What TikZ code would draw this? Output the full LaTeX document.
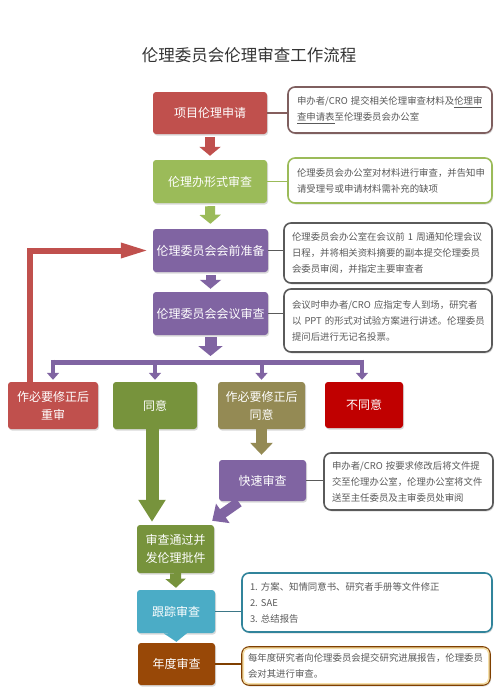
\documentclass[tikz,border=0pt]{standalone}
\usepackage{fontspec}
\setmainfont{Noto Sans CJK SC}
\usetikzlibrary{arrows.meta,shadows}
\definecolor{cred}{HTML}{C0504D}
\definecolor{cgreen}{HTML}{9BBB59}
\definecolor{cpurple}{HTML}{8064A2}
\definecolor{colive}{HTML}{77933C}
\definecolor{ckhaki}{HTML}{948A54}
\definecolor{cdred}{HTML}{C00000}
\definecolor{cblue}{HTML}{4BACC6}
\definecolor{cbrown}{HTML}{984807}
\definecolor{ntext}{HTML}{595959}
\definecolor{bred}{HTML}{7F5F5F}
\definecolor{bgray}{HTML}{5A5A5A}
\definecolor{bteal}{HTML}{31849B}
\definecolor{bbrown}{HTML}{7F3F00}
\definecolor{bgold}{HTML}{F5DFA8}
\begin{document}
\begin{tikzpicture}[x=1pt,y=-1pt,
  box/.style={rounded corners=3pt, text=white, font=\fontsize{12}{18}\selectfont,
    align=center, inner sep=0pt,
    drop shadow={shadow xshift=1pt,shadow yshift=-1.5pt,opacity=0.3}},
  note/.style={draw, rounded corners=7pt, line width=1.6pt, fill=white,
    align=left, inner xsep=9pt, inner ysep=0pt, text=ntext,
    font=\fontsize{9.4}{16}\selectfont,
    drop shadow={shadow xshift=1pt,shadow yshift=-1.5pt,opacity=0.25}},
  link/.style={line width=1.8pt},
  blk/.style={line width=#1},
]
\useasboundingbox (0,0) rectangle (500,693);

\node[font=\fontsize{16.5}{20}\selectfont, text=black!80] (title) at (249,55) {伦理委员会伦理审查工作流程};

% main boxes
\node[box, fill=cred, minimum width=114pt, minimum height=42pt] (b1) at (210,113) {项目伦理申请};
\node[box, fill=cgreen, minimum width=114pt, minimum height=43pt] (b2) at (210,181.5) {伦理办形式审查};
\node[box, fill=cpurple, minimum width=115pt, minimum height=43pt] (b3) at (210.5,250.5) {伦理委员会会前准备};
\node[box, fill=cpurple, minimum width=115pt, minimum height=43pt] (b4) at (210.5,313.5) {伦理委员会会议审查};

\node[box, fill=cred, minimum width=90pt, minimum height=47pt] (rev) at (53,405.5) {作必要修正后\\重审};
\node[box, fill=colive, minimum width=84pt, minimum height=47pt] (agree) at (155,405.5) {同意};
\node[box, fill=ckhaki, minimum width=87pt, minimum height=47pt] (modagree) at (261.5,405.5) {作必要修正后\\同意};
\node[box, fill=cdred, minimum width=78pt, minimum height=46pt] (reject) at (364,405) {不同意};

\node[box, fill=cpurple, minimum width=87pt, minimum height=41pt] (fast) at (262.5,480.5) {快速审查};
\node[box, fill=colive, minimum width=77pt, minimum height=48pt] (pass) at (175.5,549) {审查通过并\\发伦理批件};
\node[box, fill=cblue, minimum width=78pt, minimum height=43pt] (track) at (176,611.5) {跟踪审查};
\node[box, fill=cbrown, minimum width=77pt, minimum height=42pt] (annual) at (176.5,664) {年度审查};

% notes
\node[note, draw=bred, text width=186pt, minimum height=46pt] (n1) at (390,110)
  {申办者/CRO~提交相关伦理审查材料及\underline{伦理审}\\\underline{查申请表}至伦理委员会办公室};
\node[note, draw=cgreen, text width=186pt, minimum height=45pt] (n2) at (390,180.5)
  {伦理委员会办公室对材料进行审查，并告知申\\请受理号或申请材料需补充的缺项};
\node[note, draw=bgray, text width=192pt, minimum height=60pt, inner xsep=8pt] (n3) at (388,253)
  {伦理委员会办公室在会议前~1~周通知伦理会议\\日程，并将相关资料摘要的副本提交伦理委员\\会委员审阅，并指定主要审查者};
\node[note, draw=bgray, text width=192pt, minimum height=63pt, inner xsep=8pt] (n4) at (388,320.5)
  {会议时申办者/CRO~应指定专人到场，研究者\\以~PPT~的形式对试验方案进行讲述。伦理委员\\提问后进行无记名投票。};
\node[note, draw=bgray, text width=153pt, minimum height=57pt, inner xsep=8pt] (n5) at (408.5,481.5)
  {申办者/CRO~按要求修改后将文件提\\交至伦理办公室，伦理办公室将文件\\送至主任委员及主审委员处审阅};
\node[note, draw=bteal, text width=234pt, minimum height=59pt, inner xsep=8pt] (n6) at (367,602.5)
  {1.~方案、知情同意书、研究者手册等文件修正\\2.~SAE\\3.~总结报告};
\node[note, draw=bbrown, text width=236pt, minimum height=38pt, inner xsep=6pt] (n7) at (366,666)
  {每年度研究者向伦理委员会提交研究进展报告，伦理委员\\会对其进行审查。};
\draw[bgold, line width=1.6pt, rounded corners=5pt]
  ([shift={(2pt,-2pt)}]n7.north west) rectangle ([shift={(-2pt,2pt)}]n7.south east);

% links box -> note
\draw[link, draw=bred!90!cred] (b1.east) -- (b1.east -| n1.west);
\draw[link, draw=cgreen] (b2.east) -- (b2.east -| n2.west);
\draw[link, draw=bgray] (b3.east) -- (b3.east -| n3.west);
\draw[link, draw=bgray] (b4.east) -- (b4.east -| n4.west);
\draw[link, draw=bgray] (fast.east) -- (fast.east -| n5.west);
\draw[link, draw=bteal!70!bgray] (track.east) -- (track.east -| n6.west);
\draw[link, draw=bbrown] (annual.east) -- (annual.east -| n7.west);

% block arrows in the main column
\draw[blk=10pt, cred, -{Triangle[width=21pt,length=9pt]}, shorten <=3pt, shorten >=4pt] (b1.south) -- (b2.north);
\draw[blk=10pt, cgreen, -{Triangle[width=21pt,length=9pt]}, shorten <=3pt, shorten >=5pt] (b2.south) -- (b3.north);
\draw[blk=10pt, cpurple, -{Triangle[width=21pt,length=9pt]}, shorten <=3pt, shorten >=3pt] (b3.south) -- (b4.north);

% distribution bar
\coordinate (barL) at (53,362);
\coordinate (barR) at (362,362);
\draw[blk=12pt, cpurple, -{Triangle[width=24pt,length=10pt]}, shorten <=2pt] (b4.south) -- (b4.south |- 0,356);
\draw[blk=5pt, cpurple] (barL) -- (barR);
\draw[blk=4pt, cpurple, -{Triangle[width=12pt,length=7pt]}, shorten >=2pt] ([yshift=2.5pt]barL) -- (rev.north);
\draw[blk=4pt, cpurple, -{Triangle[width=12pt,length=7pt]}, shorten >=2pt] (agree.north |- barL) -- (agree.north);
\draw[blk=4pt, cpurple, -{Triangle[width=12pt,length=7pt]}, shorten >=2pt] (modagree.north |- barL) -- (modagree.north);
\draw[blk=4pt, cpurple, -{Triangle[width=12pt,length=7pt]}, shorten >=2pt] ([yshift=2.5pt]barR) -- (barR |- reject.north);

% feedback arrow
\draw[blk=6pt, cred, -{Triangle[width=14pt,length=28pt]}, shorten >=4pt]
  ([xshift=-23pt]rev.north) |- (b3.west);

% lower arrows
\draw[blk=13pt, colive, -{Triangle[width=26pt,length=22pt]}, shorten >=3pt]
  ([xshift=-3pt]agree.south) -- ([xshift=-3pt]agree.south |- pass.north);
\draw[blk=11pt, ckhaki, -{Triangle[width=22pt,length=12pt]}, shorten >=5pt]
  (modagree.south) -- (modagree.south |- fast.north);
\draw[blk=10pt, cpurple, -{Triangle[width=23pt,length=13pt]}]
  ([xshift=20pt,yshift=-1pt]fast.south west) -- ([xshift=-2pt,yshift=4pt]pass.north east);
\draw[blk=11pt, colive, -{Triangle[width=20pt,length=9pt]}, shorten >=2pt]
  (pass.south) -- (track.north);
\draw[blk=10pt, cblue, -{Triangle[width=24pt,length=9pt]}, shorten >=1pt]
  (track.south) -- (annual.north);
\end{tikzpicture}
\end{document}
